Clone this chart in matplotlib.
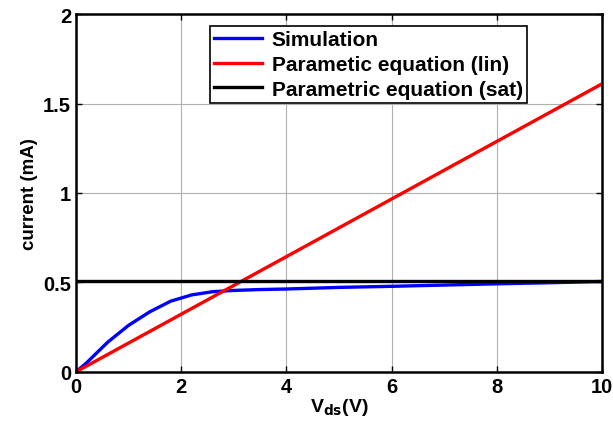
import matplotlib
matplotlib.use('Agg')
import matplotlib.pyplot as plt

# data
vds_sim = [0, 0.2, 0.6, 1.0, 1.4, 1.8, 2.2, 2.6, 3.0, 3.5, 4.0, 5.0, 6.0, 7.0, 8.0, 9.0, 10.0]
i_sim = [0, 0.05, 0.165, 0.26, 0.335, 0.395, 0.43, 0.448, 0.455, 0.46, 0.463, 0.472, 0.478, 0.485, 0.492, 0.498, 0.505]
vds_eq = [0, 10]
i_lin = [0, 1.61]
i_sat = [0.505, 0.505]

plt.rcParams['font.family'] = ['Liberation Sans', 'DejaVu Sans']
plt.rcParams['font.weight'] = 'bold'

fig = plt.figure(figsize=(6.13, 4.31), dpi=100)
ax = fig.add_axes([0.124, 0.135, 0.858, 0.83])

ax.plot(vds_sim, i_sim, color='b', linewidth=2.4, label='Simulation')
ax.plot(vds_eq, i_lin, color='r', linewidth=2.4, label='Parametic equation (lin)')
ax.plot(vds_eq, i_sat, color='k', linewidth=2.4, label='Parametric equation (sat)')

ax.set_xlim(0, 10)
ax.set_ylim(0, 2)
ax.set_xticks([0, 2, 4, 6, 8, 10])
ax.set_yticks([0, 0.5, 1, 1.5, 2])
ax.set_yticklabels(['0', '0.5', '1', '1.5', '2'])
ax.grid(True, color='#b0b0b0', linewidth=0.8)
ax.tick_params(direction='in', top=True, right=True, labelsize=14.5, width=1, length=4)
for s in ax.spines.values():
    s.set_linewidth(1.8)

ax.set_xlabel('V$_{\\mathbf{ds}}$(V)', fontsize=14, fontweight='bold', labelpad=0)
ax.set_ylabel('current (mA)', fontsize=13.5, fontweight='bold', labelpad=4)

leg = ax.legend(loc='upper left', bbox_to_anchor=(0.255, 0.967), fontsize=15,
                fancybox=False, framealpha=1, edgecolor='k', handlelength=2.3,
                borderpad=0.2, labelspacing=0.28, handletextpad=0.45, borderaxespad=0)
leg.get_frame().set_linewidth(1.2)

fig.savefig('out.png', dpi=100)
